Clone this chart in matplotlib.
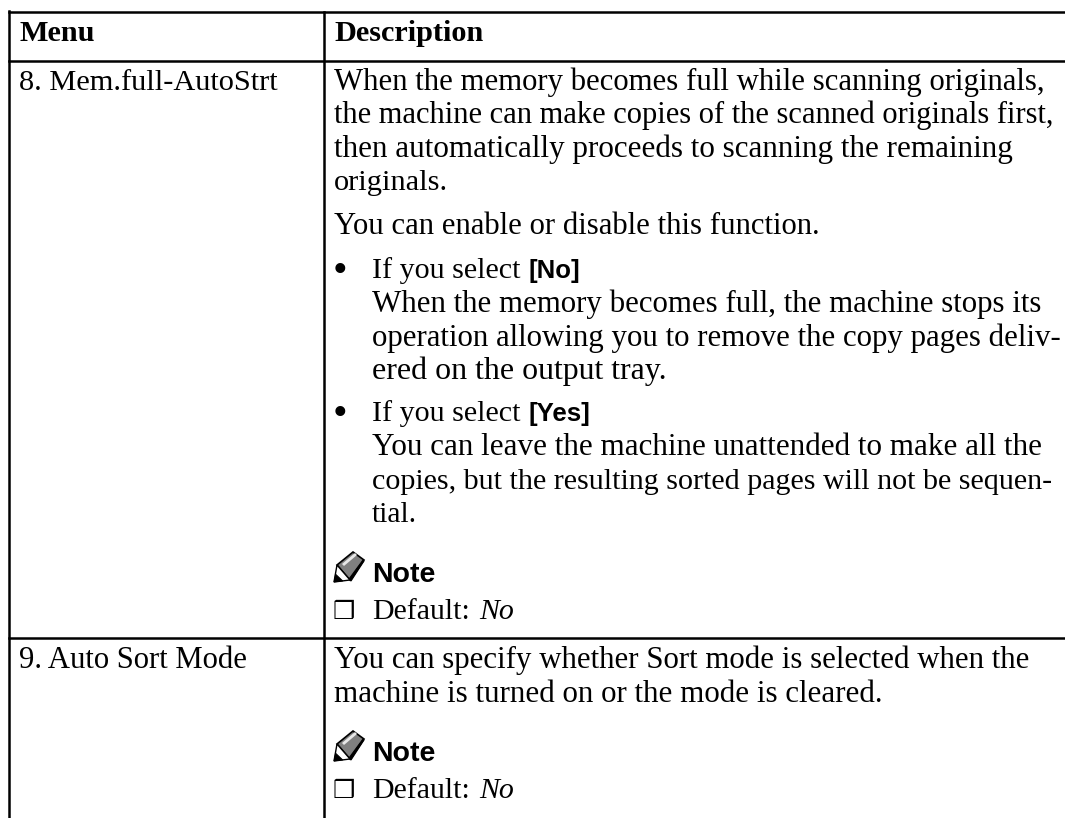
import matplotlib
matplotlib.use('Agg')
import matplotlib.pyplot as plt
from matplotlib.patches import Polygon

serif = 'Liberation Serif'
sans = 'Liberation Sans'

headers = ['Menu', 'Description']
menu_items = ['8. Mem.full-AutoStrt', '9. Auto Sort Mode']

# (baseline y, left x, right x, text)
plain_lines = [
    (90, 334, 1043, 'When the memory becomes full while scanning originals,'),
    (123, 334, 1053, 'the machine can make copies of the scanned originals first,'),
    (157, 334, 1013, 'then automatically proceeds to scanning the remaining'),
    (190, 334, 448, 'originals.'),
    (234, 334, 819, 'You can enable or disable this function.'),
    (312, 372, 1039, 'When the memory becomes full, the machine stops its'),
    (346, 372, 1060, 'operation allowing you to remove the copy pages deliv-'),
    (379, 372, 665, 'ered on the output tray.'),
    (455, 372, 1040, 'You can leave the machine unattended to make all the'),
    (489, 372, 1051, 'copies, but the resulting sorted pages will not be sequen-'),
    (522, 372, 417, 'tial.'),
    (668, 334, 1028, 'You can specify whether Sort mode is selected when the'),
    (702, 334, 881, 'machine is turned on or the mode is cleared.'),
]
choices = [(278, '[No]'), (421, '[Yes]')]
notes = [582, 761]
defaults = [619, 798]

fig = plt.figure(figsize=(10.65, 8.18), dpi=100)
ax = fig.add_axes([0, 0, 1, 1])
ax.set_xlim(0, 1065)
ax.set_ylim(818, 0)
ax.axis('off')


def txt(x, y, s, size=22, **kw):
    kw.setdefault('family', serif)
    return ax.text(x, y, s, fontsize=size, va='baseline', color='black', **kw)


def fitted(x, x1, y, s):
    # the reference font is not installed, so stretch the size until the line ends in the same place
    t = txt(x, y, s)
    fig.canvas.draw()
    w = t.get_window_extent().width
    t.set_fontsize(22 * (x1 - x) / w)


def pencil(x, y):
    # x,y is the tip of the pencil
    ax.add_patch(Polygon([(x + 3, y - 17), (x + 19, y - 30), (x + 30, y - 22), (x + 16, y - 2)],
                         fc='#808080', ec='black', lw=1.2))
    ax.add_patch(Polygon([(x + 8, y - 18), (x + 21, y - 29), (x + 23, y - 27), (x + 10, y - 16)],
                         fc='#e8e8e8', ec='none'))
    ax.add_patch(Polygon([(x + 15, y - 3), (x + 29, y - 22), (x + 30, y - 21), (x + 17, y - 1)],
                         fc='black', ec='black', lw=0.8))
    ax.add_patch(Polygon([(x, y), (x + 3, y - 17), (x + 16, y - 2)], fc='white', ec='black', lw=1))
    ax.add_patch(Polygon([(x, y), (x + 1.5, y - 8), (x + 9, y - 1)], fc='black', ec='black', lw=0.5))


# table rules
lw = 1.8
ax.plot([9, 1065], [12, 12], color='black', lw=lw)
ax.plot([9, 1065], [61, 61], color='black', lw=lw)
ax.plot([9, 1065], [638, 638], color='black', lw=lw)
ax.plot([9, 9], [11, 818], color='black', lw=lw)
ax.plot([324, 324], [12, 818], color='black', lw=lw)

txt(19, 41, headers[0], size=21.8, weight='bold')
txt(334, 41, headers[1], size=21.8, weight='bold')
fitted(19, 277, 90, menu_items[0])
fitted(19, 246, 668, menu_items[1])

for y, x, x1, s in plain_lines:
    fitted(x, x1, y, s)

for y, label in choices:
    txt(333, y + 4, '•', size=30)
    fitted(372, 520, y, 'If you select')
    txt(528, y, label, size=18.5, family=sans, weight='bold')

for y in notes:
    pencil(334, y)
    txt(372, y, 'Note', size=20.5, family=sans, weight='bold')

for y in defaults:
    txt(333, y, '❒', size=18, family='DejaVu Sans')
    fitted(372, 470, y, 'Default:')
    txt(479, y, 'No', size=21.5, style='italic')

fig.savefig('out.png', dpi=100)
